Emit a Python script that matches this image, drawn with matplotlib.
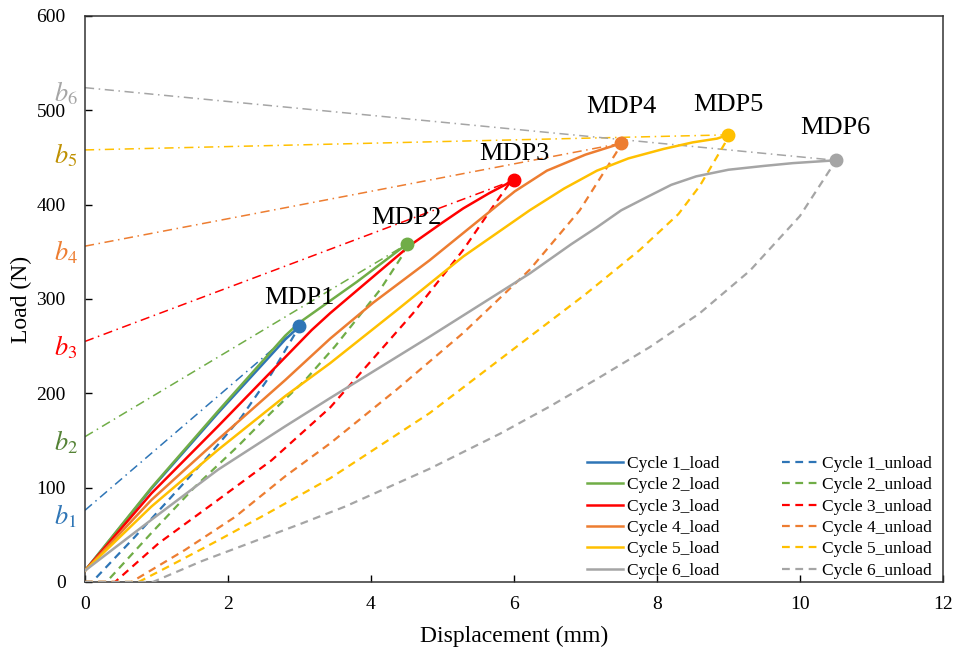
import matplotlib.pyplot as plt

plt.rcParams['font.family'] = ['Liberation Serif', 'DejaVu Serif']
plt.rcParams['mathtext.fontset'] = 'stix'

colors = ['#2E75B6', '#70AD47', '#FF0000', '#ED7D31', '#FFC000', '#A5A5A5']
b_colors = ['#2E75B6', '#548235', '#FF0000', '#ED7D31', '#BF9000', '#A5A5A5']

# maximum displacement points
mdp_x = [3.0, 4.5, 6.0, 7.5, 9.0, 10.5]
mdp_y = [271, 358, 426, 465, 474, 447]
mdp_names = ['MDP1', 'MDP2', 'MDP3', 'MDP4', 'MDP5', 'MDP6']

# intercepts of the secant lines
b_vals = [76, 154, 255, 356, 458, 524]

# loading branches
load_x = [
    [0, 0.93, 1.86, 2.8, 3.0],
    [0, 0.93, 1.86, 2.8, 3.0, 3.8, 4.5],
    [0, 0.93, 1.86, 3.17, 3.43, 4.55, 5.0, 5.29, 5.65, 6.0],
    [0, 0.93, 1.86, 2.8, 3.43, 4.03, 4.82, 5.52, 6.01, 6.46, 7.0, 7.5],
    [0, 0.93, 1.86, 2.8, 3.43, 4.36, 5.29, 6.22, 6.7, 7.16, 7.6, 8.09, 8.5, 8.84, 9.0],
    [0, 0.93, 1.86, 2.8, 3.43, 4.82, 6.22, 6.8, 7.16, 7.5, 7.86, 8.2, 8.55, 9.0, 9.49, 9.9, 10.5],
]
load_y = [
    [12, 99, 179, 257, 271],
    [12, 100, 181, 261, 275, 318, 358],
    [12, 94, 165, 267, 285, 357, 381, 396, 412, 426],
    [12, 87, 151, 214, 258, 296, 341, 384, 414, 436, 453, 465],
    [12, 80, 140, 197, 232, 288, 345, 394, 417, 436, 449, 459, 466, 470, 474],
    [12, 66, 119, 165, 195, 260, 327, 358, 376, 394, 408, 421, 430, 437, 441, 444, 447],
]

# unloading branches
unload_x = [
    [0, 0.1, 0.7, 1.17, 1.72, 2.19, 2.61, 2.89, 3.0],
    [0, 0.3, 0.93, 1.54, 2.14, 2.61, 3.08, 3.5, 4.13, 4.43, 4.5],
    [0, 0.42, 1.03, 1.86, 2.61, 3.43, 4.59, 5.29, 5.67, 5.94, 6.0],
    [0, 0.65, 1.4, 2.1, 2.8, 3.43, 4.36, 5.29, 6.22, 6.92, 7.43, 7.5],
    [0, 0.75, 1.21, 1.86, 2.56, 3.43, 4.82, 6.22, 7.0, 7.76, 8.3, 8.6, 8.95, 9.0],
    [0, 0.95, 1.63, 2.33, 3.03, 3.64, 4.82, 5.8, 6.5, 7.2, 7.9, 8.6, 9.3, 10.0, 10.42, 10.5],
]
unload_y = [
    [0, 0, 48, 87, 133, 175, 221, 257, 271],
    [0, 0, 52, 101, 144, 180, 214, 250, 310, 345, 358],
    [0, 0, 41, 87, 129, 185, 285, 352, 394, 423, 426],
    [0, 0, 34, 69, 112, 147, 204, 264, 331, 394, 455, 465],
    [0, 0, 18, 44, 73, 110, 179, 260, 305, 352, 390, 420, 465, 474],
    [0, 0, 22, 42, 62, 80, 120, 157, 186, 217, 249, 285, 330, 388, 437, 447],
]

fig = plt.figure(figsize=(9.58, 6.52), dpi=100)
ax = fig.add_axes([0.0887, 0.1074, 0.8956, 0.8681])

load_lines = []
unload_lines = []
for i in range(6):
    c = colors[i]
    ax.plot([0, mdp_x[i]], [b_vals[i], mdp_y[i]], color=c, lw=1.1,
            linestyle=(0, (6, 3, 1, 3)), zorder=2)
    l, = ax.plot(load_x[i], load_y[i], color=c, lw=1.8, zorder=3,
                 label='Cycle %d_load' % (i + 1))
    u, = ax.plot(unload_x[i], unload_y[i], color=c, lw=1.6, zorder=3,
                 linestyle=(0, (3.5, 2.5)), label='Cycle %d_unload' % (i + 1))
    load_lines.append(l)
    unload_lines.append(u)
    ax.plot(mdp_x[i], mdp_y[i], 'o', color=c, ms=9, zorder=4)

# MDP labels
lab_y = [301, 386, 454, 504, 506, 481]
for i in range(6):
    ax.text(mdp_x[i], lab_y[i], mdp_names[i], ha='center', va='center', fontsize=19)

# b labels beside the y axis
for i in range(6):
    ax.text(-0.27, b_vals[i] - 6, r'$b_%d$' % (i + 1), color=b_colors[i],
            ha='center', va='center', fontsize=19, clip_on=False)

ax.set_xlim(0, 12)
ax.set_ylim(0, 600)
ax.set_xticks(range(0, 13, 2))
ax.set_yticks(range(0, 601, 100))
ax.tick_params(direction='in', labelsize=14, length=5, width=1)
ax.tick_params(axis='y', pad=14)
ax.tick_params(axis='x', pad=10)
for s in ax.spines.values():
    s.set_linewidth(1.1)
    s.set_color('#333333')

ax.set_xlabel('Displacement (mm)', fontsize=17, labelpad=9)
ax.set_ylabel('Load (N)', fontsize=17)
ax.yaxis.set_label_coords(-0.062, 0.5)

ax.legend(handles=load_lines + unload_lines, ncol=2, loc='lower right',
          bbox_to_anchor=(1.005, -0.022), frameon=False, fontsize=12.5,
          handlelength=2.1, handletextpad=0.2, columnspacing=3.6, labelspacing=0.3)

plt.savefig('out.png', dpi=100)
